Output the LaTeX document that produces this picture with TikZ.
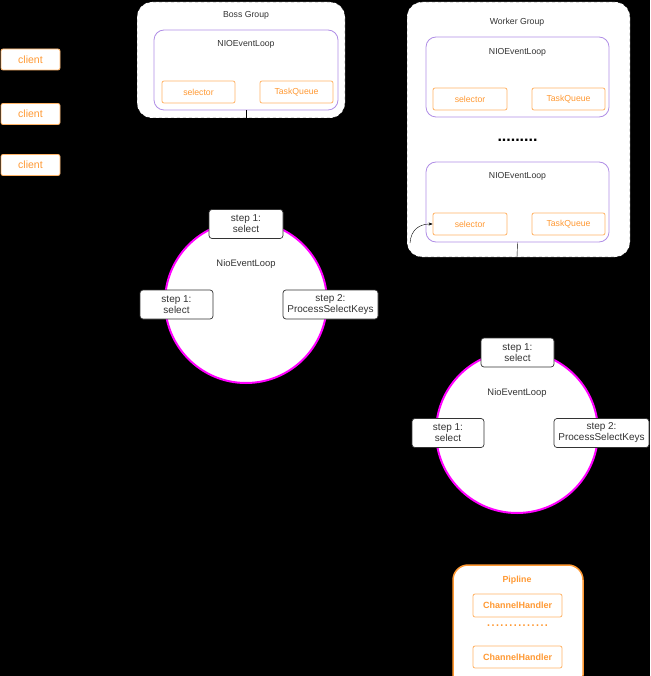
\documentclass[tikz,border=0pt]{standalone}
\usepackage{fontspec}
\setmainfont{Liberation Sans}
\usetikzlibrary{arrows.meta,positioning}
\definecolor{boxorange}{HTML}{FFB366}
\definecolor{textorange}{HTML}{FF9933}
\definecolor{looppurple}{HTML}{B08EE6}
\definecolor{ringmagenta}{HTML}{FF00FF}
\definecolor{steptext}{HTML}{333333}

\begin{document}
\begin{tikzpicture}[x=1pt, y=-1pt, >=Stealth,
  lbl/.style={font=\fontsize{8.7}{10}\selectfont, text=steptext},
  group/.style={draw=black, dashed, fill=white, rounded corners=15pt},
  evloop/.style={draw=looppurple, line width=0.8pt, fill=white, rounded corners=10pt, minimum width=184pt, minimum height=80pt},
  part/.style={draw=boxorange, line width=0.8pt, fill=white, rounded corners=2pt, minimum width=73pt, minimum height=22pt, text=textorange, font=\fontsize{8.7}{10}\selectfont},
  ring/.style={circle, draw=ringmagenta, line width=2pt, fill=white, minimum size=162pt},
  stepbox/.style={draw=steptext, line width=0.7pt, fill=white, rounded corners=3pt, minimum height=29pt, align=center, inner sep=1pt, font=\fontsize{10}{11}\selectfont, text=steptext}]
  % Canvas
  \fill[black] (0,0) rectangle (650,676);
  \useasboundingbox (0,0) rectangle (650,676);
  % Clients
  \foreach \y [count=\i] in {59.5,114,165}
    \node[part, minimum width=59pt, minimum height=21pt, font=\fontsize{10.5}{12}\selectfont] (client\i) at (30.5,\y) {client};
  % Boss group
  \node[group, minimum width=208pt, minimum height=116pt] (boss) at (241,60) {};
  \node[lbl] (bosstitle) at (246,15) {Boss Group};
  \node[evloop] (bossloop) at (246,70) {};
  \node[lbl] (bosslooptitle) at (246,44) {NIOEventLoop};
  \node[part] (bosssel) at (198.5,92) {selector};
  \node[part] (bosstq) at (296.5,92) {TaskQueue};
  \coordinate (bossout) at (246,118);
  \draw (bossloop.south) -- (bossout);
  % Worker group
  \node[group, minimum width=223pt, minimum height=255pt] (worker) at (518.5,129.5) {};
  \node[lbl] (workertitle) at (517,22) {Worker Group};
  \node[evloop, minimum width=183pt] (wloopa) at (517.5,77) {};
  \node[lbl] (wloopatitle) at (517.5,52) {NIOEventLoop};
  \node[part, minimum width=74pt] (wsela) at (470,99) {selector};
  \node[part] (wtqa) at (568.5,99) {TaskQueue};
  \node[font=\bfseries\fontsize{16}{16}\selectfont] (wdots) at (517.5,140) {.........};
  \node[evloop, minimum width=183pt] (wloopb) at (517.5,202) {};
  \node[lbl] (wloopbtitle) at (517.5,176) {NIOEventLoop};
  \node[part, minimum width=74pt] (wselb) at (470,224) {selector};
  \node[part] (wtqb) at (568.5,224) {TaskQueue};
  \coordinate (workerout) at (517,257);
  \draw (wloopb.south) -- (workerout);
  \coordinate (arrowin) at (410,243);
  \draw[-{Stealth[length=4pt,width=3pt]}] (arrowin) .. controls (411,229) and (420,224) .. (wselb.west);
  % Boss loop ring
  \node[ring] (bossring) at (246,302) {};
  \node[lbl, font=\fontsize{9.4}{11}\selectfont] (bossringtitle) at (246,264) {NioEventLoop};
  \node[stepbox, minimum width=74pt] (bstepa) at (246,224) {step 1:\\select};
  \node[stepbox, minimum width=73pt] (bstepb) at (176.5,304.5) {step 1:\\select};
  \node[stepbox, minimum width=95pt] (bstepc) at (330.5,304.5) {step 2:\\ProcessSelectKeys};
  % Worker loop ring
  \node[ring] (workerring) at (517,432) {};
  \node[lbl, font=\fontsize{9.4}{11}\selectfont] (workerringtitle) at (517,393) {NioEventLoop};
  \node[stepbox, minimum width=73pt] (wstepa) at (517.5,352.5) {step 1:\\select};
  \node[stepbox, minimum width=72pt] (wstepb) at (448,433) {step 1:\\select};
  \node[stepbox, minimum width=95pt] (wstepc) at (601.5,433) {step 2:\\ProcessSelectKeys};
  % Pipeline
  \node[draw=textorange, line width=1.5pt, fill=white, rounded corners=15pt, minimum width=130pt, minimum height=125pt] (pipe) at (518,627.5) {};
  \node[text=textorange, font=\bfseries\fontsize{8.8}{10}\selectfont] (pipetitle) at (517,580) {Pipline};
  \node[part, minimum width=89pt, minimum height=23pt, font=\bfseries\fontsize{9}{10}\selectfont] (handlera) at (517.5,605.5) {ChannelHandler};
  \node[text=textorange, font=\fontsize{16}{16}\selectfont] (pipedots) at (517.5,626) {..............};
  \node[part, minimum width=89pt, minimum height=22pt, font=\bfseries\fontsize{9}{10}\selectfont] (handlerb) at (517.5,657) {ChannelHandler};
\end{tikzpicture}
\end{document}
